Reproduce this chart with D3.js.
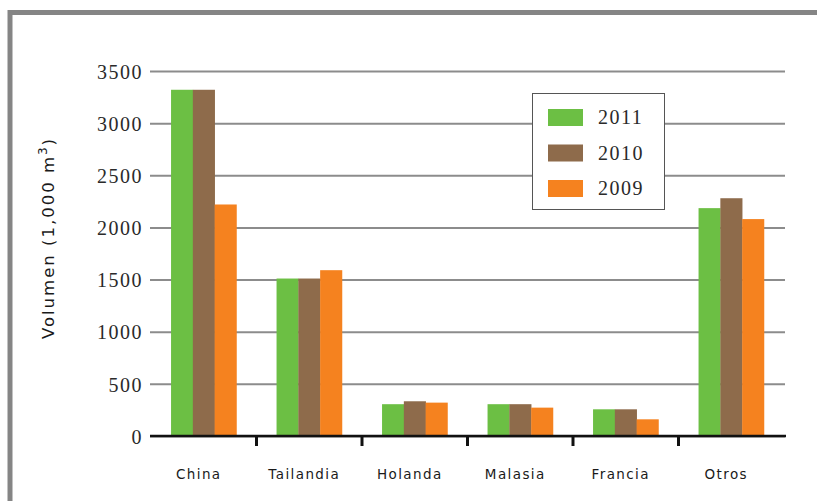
<!DOCTYPE html>
<html>
<head>
<meta charset="utf-8">
<script src="https://cdn.jsdelivr.net/npm/d3@7"></script>
<style>
  body { margin: 0; background: #fff; }
  svg { display: block; }
  .frame { fill: none; stroke: #858585; stroke-width: 5px; }
  .grid line { stroke: #8c8c8c; stroke-width: 2px; }
  .grid path { display: none; }
  .grid text { font-family: "Liberation Serif", serif; font-size: 20px; letter-spacing: 1.5px; fill: #2a2a2a; }
  .baseline { stroke: #111; stroke-width: 2.5px; }
  .cat-tick { stroke: #111; stroke-width: 3px; }
  .cat-label { font-family: "DejaVu Sans", sans-serif; font-size: 13.5px; letter-spacing: 1.4px; fill: #1a1a1a; }
  .y-title { font-family: "DejaVu Sans", sans-serif; font-size: 16.5px; letter-spacing: 2px; fill: #1a1a1a; }
  .legend rect.box { fill: #fff; stroke: #555; stroke-width: 1px; }
  .legend text { font-family: "Liberation Serif", serif; font-size: 20px; letter-spacing: 1.5px; fill: #2a2a2a; }
</style>
</head>
<body>
<svg id="chart" width="817" height="501"></svg>
<script>
  var categories = ["China", "Tailandia", "Holanda", "Malasia", "Francia", "Otros"];
  var years = ["2011", "2010", "2009"];
  var values2011 = [3320, 1510, 305, 305, 256, 2185];
  var values2010 = [3320, 1510, 333, 305, 256, 2280];
  var values2009 = [2220, 1590, 320, 272, 160, 2080];
  var yTicks = [0, 500, 1000, 1500, 2000, 2500, 3000, 3500];
  var colors = ["#6cbf44", "#8e6b4b", "#f5821f"];

  var series = [values2011, values2010, values2009];

  var svg = d3.select("#chart");
  var plotLeft = 151, plotRight = 784, plotTop = 71, plotBottom = 436;

  // outer frame, only top and left edges are visible
  svg.append("rect").attr("class", "frame")
    .attr("x", 10).attr("y", 12.5)
    .attr("width", 900).attr("height", 600);

  var x = d3.scaleBand()
    .domain(categories)
    .range([plotLeft, plotRight])
    .paddingInner(0.38)
    .paddingOuter(0.19);

  var xs = d3.scaleBand()
    .domain(years)
    .range([0, x.bandwidth()]);

  var y = d3.scaleLinear()
    .domain([0, 3500])
    .range([plotBottom, plotTop]);

  // gridlines + y tick labels
  var grid = svg.append("g")
    .attr("class", "grid")
    .attr("transform", "translate(" + (plotLeft - 1) + ",0)")
    .call(d3.axisLeft(y).tickValues(yTicks).tickFormat(d3.format("d"))
      .tickSize(-(plotRight + 2 - plotLeft)).tickPadding(7));
  grid.selectAll("text").attr("dy", "0.36em");

  // bars
  var groups = svg.append("g").selectAll("g")
    .data(categories)
    .join("g")
    .attr("transform", function(d) { return "translate(" + x(d) + ",0)"; });

  groups.selectAll("rect")
    .data(function(d, i) { return years.map(function(yr, j) { return { year: yr, v: series[j][i], j: j }; }); })
    .join("rect")
    .attr("x", function(d) { return xs(d.year); })
    .attr("width", xs.bandwidth() + 0.3)
    .attr("y", function(d) { return y(d.v); })
    .attr("height", function(d) { return y(0) - y(d.v); })
    .attr("fill", function(d) { return colors[d.j]; });

  // baseline
  svg.append("line").attr("class", "baseline")
    .attr("x1", plotLeft - 1).attr("x2", plotRight + 2)
    .attr("y1", y(0)).attr("y2", y(0));

  // category separator ticks
  var gap = (x.step() - x.bandwidth()) / 2;
  svg.append("g").selectAll("line")
    .data(categories.slice(1))
    .join("line")
    .attr("class", "cat-tick")
    .attr("x1", function(d) { return x(d) - gap; })
    .attr("x2", function(d) { return x(d) - gap; })
    .attr("y1", y(0)).attr("y2", y(0) + 10);

  // category labels
  svg.append("g").selectAll("text")
    .data(categories)
    .join("text")
    .attr("class", "cat-label")
    .attr("x", function(d) { return x(d) + x.bandwidth() / 2 - 5; })
    .attr("y", 479)
    .attr("text-anchor", "middle")
    .text(function(d) { return d; });

  // y title
  var title = svg.append("text")
    .attr("class", "y-title")
    .attr("transform", "translate(54,238) rotate(-90)")
    .attr("text-anchor", "middle");
  title.append("tspan").text("Volumen (1,000 m");
  title.append("tspan").attr("dy", -7).attr("font-size", "12px").text("3");
  title.append("tspan").attr("dy", 7).text(")");

  // legend
  var legend = svg.append("g").attr("class", "legend")
    .attr("transform", "translate(532,93)");
  legend.append("rect").attr("class", "box")
    .attr("x", 0.5).attr("y", 0.5).attr("width", 132).attr("height", 116);
  var items = legend.selectAll("g.item")
    .data(years)
    .join("g")
    .attr("class", "item")
    .attr("transform", function(d, i) { return "translate(16," + (16 + i * 35.5) + ")"; });
  items.append("rect")
    .attr("width", 35).attr("height", 17)
    .attr("fill", function(d, i) { return colors[i]; });
  items.append("text")
    .attr("x", 50).attr("y", 15)
    .text(function(d) { return d; });
</script>
</body>
</html>
